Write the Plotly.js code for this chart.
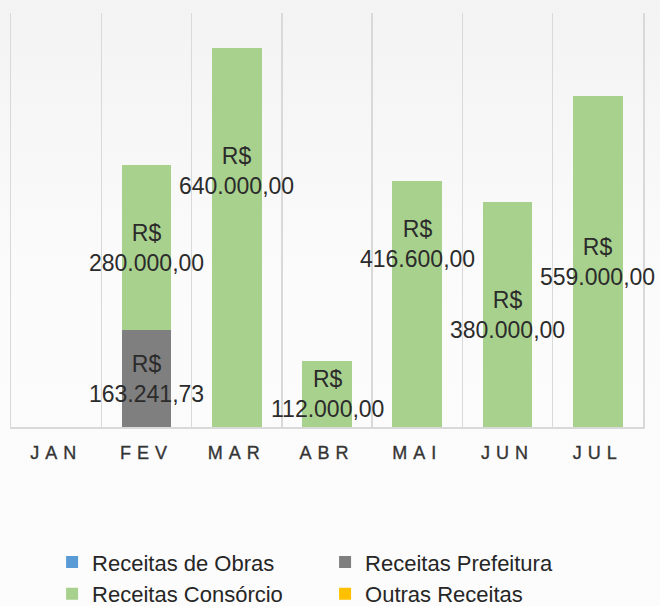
<!DOCTYPE html>
<html>
<head>
<meta charset="utf-8">
<script src="https://cdn.plot.ly/plotly-3.0.1.min.js"></script>
<style>
  html, body { margin: 0; padding: 0; }
  body { width: 660px; height: 606px; background: linear-gradient(to bottom, #f3f3f3 0%, #fbfbfb 45%, #fcfcfc 100%); }
  #chart { width: 660px; height: 606px; }
  .xtick text { letter-spacing: 6px; stroke: #3a3a3a; stroke-width: 0.35px; }
</style>
</head>
<body>
<div id="chart"></div>
<script>
const months = ["JAN", "FEV", "MAR", "ABR", "MAI", "JUN", "JUL"];
const seriesNames = ["Receitas de Obras", "Receitas Prefeitura", "Receitas Consórcio", "Outras Receitas"];
const obras      = [0, 0, 0, 0, 0, 0, 0];
const prefeitura = [0, 163241.73, 0, 0, 0, 0, 0];
const consorcio  = [0, 280000, 640000, 112000, 416600, 380000, 559000];
const outras     = [0, 0, 0, 0, 0, 0, 0];
const colors = ["#5b9bd5", "#7f7f7f", "#a9d18e", "#ffc000"];
// manual label nudges (pixels, upward) for the Consórcio labels
const consorcioLabelShift = [0, 0, 67, 0, 60, 0, 0];

const allSeries = [obras, prefeitura, consorcio, outras];

function fmtBRL(v) {
  const parts = v.toFixed(2).split(".");
  const intPart = parts[0].replace(/\B(?=(\d{3})+(?!\d))/g, ".");
  return intPart + "," + parts[1];
}

const FONT = "Liberation Sans, Arial, sans-serif";

const traces = allSeries.map((vals, i) => ({
  type: "bar",
  name: seriesNames[i],
  x: months,
  y: vals,
  marker: { color: colors[i] },
  hoverinfo: "none"
}));

const annotations = [];
const base = months.map(() => 0);
allSeries.forEach((vals, si) => {
  vals.forEach((v, mi) => {
    if (v > 0) {
      annotations.push({
        x: months[mi],
        y: base[mi] + v / 2,
        xref: "x", yref: "y",
        text: "R$<br>" + fmtBRL(v),
        showarrow: false,
        yshift: si === 2 ? consorcioLabelShift[mi] : 0,
        font: { family: FONT, size: 23, color: "#2b2b2b" },
        align: "center"
      });
    }
    base[mi] += v;
  });
});

const layout = {
  width: 660,
  height: 606,
  paper_bgcolor: "rgba(0,0,0,0)",
  plot_bgcolor: "rgba(0,0,0,0)",
  margin: { l: 11, r: 17, t: 13, b: 179, autoexpand: false },
  barmode: "stack",
  bargap: 0.45,
  showlegend: true,
  xaxis: {
    type: "category",
    range: [-0.5, 6.5],
    autorange: false,
    tickson: "boundaries",
    showgrid: true,
    gridcolor: "#d9d9d9",
    gridwidth: 1.5,
    showline: true,
    linecolor: "#d9d9d9",
    linewidth: 1.5,
    ticks: "",
    ticklabelstandoff: 9,
    tickfont: { family: FONT, size: 18, color: "#333333" },
    fixedrange: true
  },
  yaxis: {
    range: [0, 700000],
    autorange: false,
    showline: true,
    mirror: true,
    linecolor: "#d9d9d9",
    linewidth: 1.5,
    showticklabels: false,
    ticks: "",
    showgrid: false,
    zeroline: false,
    fixedrange: true
  },
  legend: {
    orientation: "h",
    traceorder: "normal",
    x: 0.065,
    xanchor: "left",
    y: -0.276,
    yanchor: "top",
    entrywidth: 228,
    entrywidthmode: "pixels",
    font: { family: FONT, size: 22, color: "#262626" },
    bgcolor: "rgba(0,0,0,0)",
    itemclick: false
  },
  annotations: annotations
};

Plotly.newPlot("chart", traces, layout, { displayModeBar: false, staticPlot: true });
</script>
</body>
</html>
